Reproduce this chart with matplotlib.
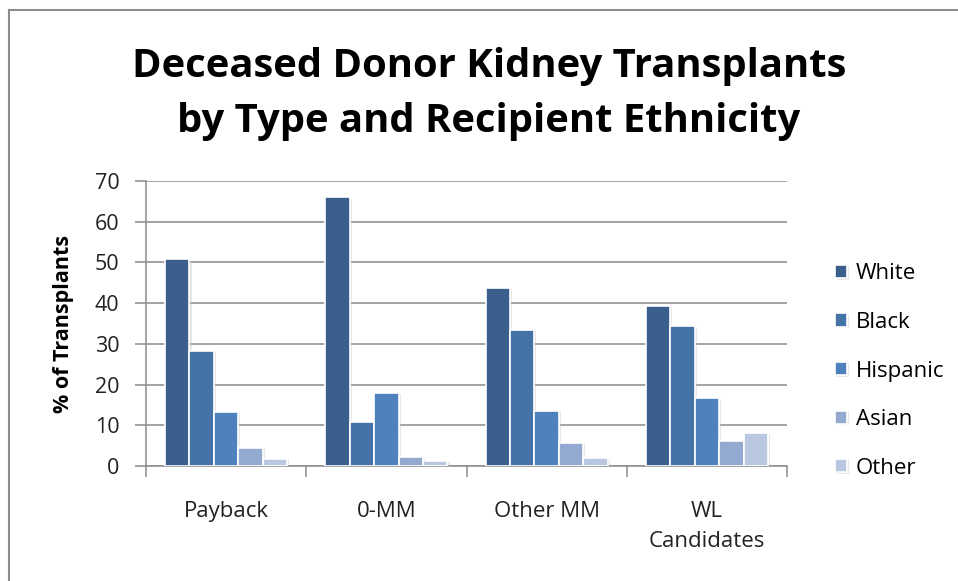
import matplotlib
matplotlib.use("Agg")
import matplotlib.pyplot as plt
import matplotlib.patheffects as pe
import numpy as np
from matplotlib.lines import Line2D

# 数据
categories = ["Payback", "0-MM", "Other MM", "WL\nCandidates"]
ethnicities = ["White", "Black", "Hispanic", "Asian", "Other"]
white = [50.8, 66.0, 43.8, 39.4]
black = [28.3, 10.7, 33.4, 34.4]
hispanic = [13.3, 18.0, 13.6, 16.7]
asian = [4.5, 2.3, 5.7, 6.1]
other = [1.7, 1.3, 2.0, 8.2]
colors = ["#3B5F8D", "#4572A7", "#4F81BD", "#93A9CF", "#B9C7E1"]

plt.rcParams['font.family'] = ['Open Sans', 'DejaVu Sans']

fig = plt.figure(figsize=(9.58, 5.81), dpi=100)
ax = fig.add_axes([146 / 958, 1 - 466 / 581, 641 / 958, 285 / 581])

series = [white, black, hispanic, asian, other]
x = np.arange(len(categories))
w = 0.1525
# 柱子带一点淡阴影
shadow = [pe.SimplePatchShadow(offset=(1.5, -1), shadow_rgbFace="#bbbbbb", alpha=0.35), pe.Normal()]
for j, (vals, name) in enumerate(zip(series, ethnicities)):
    bars = ax.bar(x + (j - 2) * w, vals, width=w, color=colors[j], edgecolor="white",
                  linewidth=1.2, label=name, zorder=3)
    for b in bars:
        b.set_path_effects(shadow)

ax.set_xlim(-0.5, len(categories) - 0.5)
ax.set_ylim(0, 70)
ax.set_yticks(range(0, 71, 10))
ax.yaxis.grid(True, color="#8c8c8c", linewidth=1.1, zorder=0)
ax.set_axisbelow(True)

for s in ["top", "right"]:
    ax.spines[s].set_visible(False)
ax.spines["left"].set_color("#8c8c8c")
ax.spines["bottom"].set_color("#8c8c8c")
ax.spines["left"].set_linewidth(1.1)
ax.spines["bottom"].set_linewidth(1.1)

ax.set_xticks(x)
ax.set_xticklabels(categories, fontsize=16, color="#222222", linespacing=1.6)
ax.set_xticks(np.arange(-0.5, len(categories)), minor=True)
ax.tick_params(axis="x", which="major", length=0, pad=25)
ax.tick_params(axis="x", which="minor", length=8, color="#8c8c8c", width=1.1)
ax.tick_params(axis="y", length=8, color="#8c8c8c", width=1.1, labelsize=15.5,
               labelcolor="#222222", pad=11)

ax.set_ylabel("% of Transplants", fontsize=15.5, fontweight="bold", labelpad=15)

fig.text(489 / 958, 1 - 94 / 581, "Deceased Donor Kidney Transplants\nby Type and Recipient Ethnicity",
         ha="center", va="center", fontsize=28.8, fontweight="bold", linespacing=1.55)

ax.legend(loc="center left", bbox_to_anchor=(815 / 958, 1 - 371 / 581),
          bbox_transform=fig.transFigure, frameon=False, fontsize=16,
          handlelength=0.55, handleheight=0.55, handletextpad=0.4, labelspacing=1.24)

# 外框
fig.add_artist(Line2D([9 / 958, 9 / 958], [0, 1 - 10 / 581], color="#8c8c8c", lw=1.5))
fig.add_artist(Line2D([9 / 958, 1], [1 - 10 / 581, 1 - 10 / 581], color="#8c8c8c", lw=1.5))

fig.savefig("out.png", dpi=100)
